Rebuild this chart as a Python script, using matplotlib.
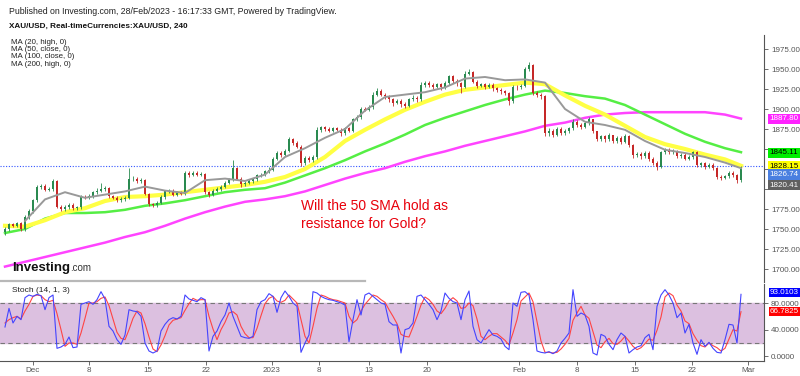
import matplotlib.pyplot as plt
from matplotlib.lines import Line2D

plt.rcParams['font.family'] = ['Liberation Sans', 'DejaVu Sans']

# ---- XAU/USD candles, open of each bar = previous close ----
first_open = 1746
closes = [1750, 1756, 1754, 1757, 1750, 1765, 1772, 1786, 1802, 1804, 1799, 1800, 1810, 1778, 1775, 1777,
          1780, 1776, 1777, 1790, 1789, 1791, 1796, 1798, 1800, 1801, 1791, 1789, 1786, 1787, 1789, 1812,
          1813, 1810, 1811, 1794, 1781, 1780, 1783, 1790, 1797, 1798, 1793, 1795, 1794, 1820, 1818, 1820,
          1818, 1819, 1796, 1793, 1798, 1800, 1803, 1808, 1812, 1826, 1813, 1806, 1808, 1810, 1812, 1817,
          1818, 1822, 1824, 1838, 1845, 1843, 1848, 1862, 1858, 1853, 1832, 1839, 1836, 1840, 1874, 1877,
          1875, 1873, 1876, 1874, 1870, 1876, 1873, 1887, 1890, 1900, 1899, 1902, 1918, 1923, 1918, 1916,
          1912, 1908, 1910, 1906, 1904, 1912, 1914, 1912, 1930, 1933, 1930, 1928, 1931, 1927, 1932, 1941,
          1935, 1932, 1928, 1944, 1946, 1934, 1929, 1931, 1928, 1930, 1926, 1924, 1922, 1920, 1910, 1928,
          1927, 1929, 1950, 1955, 1920, 1918, 1916, 1870, 1873, 1868, 1875, 1870, 1872, 1876, 1884, 1880,
          1878, 1882, 1887, 1872, 1863, 1866, 1862, 1867, 1860, 1864, 1859, 1866, 1855, 1842, 1844, 1841,
          1845, 1838, 1833, 1828, 1846, 1849, 1846, 1848, 1841, 1843, 1838, 1840, 1846, 1830, 1832, 1828,
          1830, 1826, 1815, 1814, 1816, 1820, 1818, 1811, 1827]
highs = [1753, 1758, 1758, 1759, 1759, 1767, 1775, 1788, 1805, 1806, 1806, 1803, 1813, 1811, 1780, 1780,
         1783, 1782, 1779, 1793, 1792, 1794, 1798, 1801, 1808, 1804, 1803, 1793, 1791, 1790, 1791, 1826,
         1816, 1815, 1814, 1812, 1795, 1783, 1785, 1792, 1799, 1800, 1800, 1797, 1797, 1823, 1822, 1822,
         1822, 1821, 1820, 1798, 1800, 1802, 1805, 1810, 1814, 1836, 1828, 1815, 1810, 1812, 1814, 1819,
         1820, 1824, 1827, 1840, 1848, 1847, 1850, 1865, 1864, 1860, 1855, 1841, 1841, 1843, 1877, 1879,
         1879, 1877, 1878, 1878, 1876, 1878, 1878, 1889, 1893, 1902, 1903, 1905, 1921, 1926, 1925, 1920,
         1918, 1914, 1913, 1912, 1909, 1914, 1917, 1916, 1934, 1935, 1935, 1932, 1933, 1933, 1935, 1943,
         1942, 1937, 1934, 1947, 1950, 1947, 1936, 1933, 1933, 1932, 1932, 1928, 1926, 1924, 1921, 1930,
         1930, 1931, 1953, 1959, 1956, 1922, 1920, 1917, 1876, 1875, 1878, 1877, 1875, 1878, 1887, 1886,
         1882, 1885, 1890, 1888, 1873, 1868, 1868, 1870, 1868, 1866, 1866, 1869, 1867, 1856, 1846, 1846,
         1848, 1847, 1840, 1835, 1848, 1851, 1851, 1850, 1849, 1845, 1845, 1842, 1848, 1847, 1834, 1834,
         1832, 1832, 1827, 1817, 1818, 1822, 1822, 1819, 1829]
lows = [1743, 1748, 1752, 1752, 1748, 1748, 1763, 1770, 1784, 1800, 1797, 1797, 1798, 1776, 1772, 1773,
        1775, 1774, 1774, 1775, 1787, 1787, 1789, 1794, 1796, 1798, 1789, 1787, 1784, 1784, 1785, 1787,
        1810, 1808, 1808, 1792, 1779, 1777, 1778, 1781, 1788, 1795, 1791, 1791, 1792, 1792, 1815, 1816,
        1816, 1816, 1794, 1790, 1791, 1796, 1798, 1801, 1806, 1810, 1811, 1803, 1804, 1806, 1808, 1810,
        1815, 1816, 1820, 1822, 1836, 1840, 1841, 1846, 1855, 1851, 1829, 1830, 1834, 1834, 1838, 1871,
        1873, 1871, 1871, 1872, 1866, 1868, 1871, 1871, 1885, 1888, 1897, 1897, 1900, 1916, 1916, 1913,
        1909, 1904, 1906, 1903, 1901, 1902, 1910, 1909, 1910, 1928, 1928, 1925, 1926, 1924, 1925, 1930,
        1933, 1929, 1920, 1926, 1942, 1932, 1926, 1927, 1925, 1926, 1923, 1921, 1919, 1917, 1905, 1908,
        1924, 1925, 1927, 1947, 1917, 1915, 1912, 1866, 1866, 1865, 1866, 1868, 1867, 1870, 1874, 1878,
        1875, 1876, 1880, 1870, 1860, 1860, 1859, 1860, 1857, 1858, 1856, 1857, 1852, 1839, 1840, 1838,
        1839, 1835, 1830, 1824, 1826, 1844, 1844, 1844, 1839, 1839, 1836, 1836, 1838, 1827, 1828, 1825,
        1826, 1824, 1812, 1811, 1812, 1814, 1815, 1808, 1809]

# ---- moving averages, sampled every 5 bars ----
ma_idx = [0, 5, 10, 15, 20, 25, 30, 35, 40, 45, 50, 55, 60, 65, 70, 75, 80, 85, 90,
          95, 100, 105, 110, 115, 120, 125, 130, 135, 140, 145, 150, 155, 160, 165, 170, 175, 180, 184]
ma20 = [1760, 1787, 1796, 1789, 1793, 1797, 1803, 1798, 1795, 1811, 1813, 1810, 1818, 1840, 1851,
        1864, 1875, 1898, 1915, 1918, 1921, 1927, 1938, 1940, 1936, 1937, 1933, 1900, 1884, 1880, 1874,
        1860, 1849, 1845, 1840, 1833, 1826]
ma50 = [1754, 1753, 1761, 1771, 1776, 1785, 1790, 1791, 1793, 1796, 1799, 1802, 1805, 1809, 1815, 1825,
        1840, 1860, 1874, 1887, 1899, 1909, 1918, 1924, 1927, 1930, 1933, 1931, 1917, 1904, 1893, 1879,
        1865, 1856, 1850, 1843, 1837, 1829]
ma100 = [1745, 1750, 1763, 1770, 1770, 1771, 1774, 1779, 1782, 1786, 1791, 1796, 1799, 1801, 1808, 1817,
         1826, 1836, 1847, 1857, 1868, 1880, 1889, 1897, 1905, 1912, 1918, 1923, 1920, 1916, 1913, 1905,
         1893, 1881, 1869, 1859, 1851, 1846]
ma200 = [1703, 1709, 1715, 1721, 1727, 1733, 1740, 1746, 1754, 1763, 1771, 1778, 1784, 1787, 1791, 1797,
         1805, 1813, 1820, 1826, 1834, 1841, 1847, 1854, 1860, 1866, 1872, 1879, 1883, 1889, 1893, 1895,
         1896, 1896, 1896, 1896, 1893, 1888]

# ---- stochastic (14, 1, 3): %K blue, %D red ----
stoch_k = [44, 72, 50, 60, 55, 88, 92, 90, 93, 91, 70, 88, 92, 12, 14, 18, 29, 13, 14, 78, 80, 82, 78, 85,
           97, 86, 45, 38, 25, 18, 32, 70, 68, 67, 60, 20, 8, 5, 8, 38, 48, 55, 58, 56, 60, 92, 86, 84,
           82, 88, 85, 8, 30, 38, 52, 62, 80, 60, 45, 30, 28, 27, 30, 70, 82, 85, 94, 90, 66, 88, 98, 90,
           80, 75, 6, 20, 32, 97, 95, 90, 87, 85, 84, 82, 80, 77, 22, 55, 85, 62, 92, 95, 90, 85, 80, 78,
           52, 47, 47, 5, 40, 42, 50, 90, 92, 85, 78, 70, 55, 68, 95, 87, 82, 80, 55, 85, 98, 45, 25, 20,
           30, 40, 32, 30, 26, 15, 10, 80, 75, 96, 97, 92, 55, 8, 6, 5, 7, 4, 8, 20, 27, 35, 100, 60,
           65, 62, 45, 5, 2, 33, 30, 18, 10, 25, 35, 30, 5, 10, 14, 16, 28, 33, 10, 75, 92, 100, 92, 80,
           58, 65, 35, 48, 20, 3, 25, 15, 21, 12, 6, 5, 25, 48, 47, 20, 93]
stoch_d = [50, 55, 58, 60, 56, 68, 78, 90, 92, 91, 85, 82, 84, 64, 40, 15, 20, 20, 18, 35, 57, 80, 80, 82,
           87, 89, 76, 56, 36, 27, 25, 40, 57, 68, 65, 49, 29, 11, 7, 17, 31, 47, 54, 56, 58, 69, 79, 87,
           84, 85, 85, 60, 41, 25, 40, 51, 65, 67, 62, 45, 34, 28, 28, 42, 61, 79, 87, 90, 83, 81, 84, 92,
           86, 80, 55, 30, 20, 45, 72, 92, 90, 87, 85, 84, 82, 80, 60, 50, 55, 68, 78, 85, 92, 90, 85, 81,
           70, 60, 49, 33, 30, 29, 44, 60, 77, 89, 85, 78, 68, 64, 72, 83, 88, 83, 72, 73, 80, 76, 56, 30,
           25, 30, 34, 34, 29, 24, 17, 35, 55, 83, 89, 95, 82, 52, 23, 6, 6, 5, 6, 11, 18, 27, 54, 65,
           75, 62, 57, 37, 17, 13, 22, 27, 19, 18, 23, 30, 23, 15, 10, 13, 19, 26, 24, 39, 59, 89, 95, 91,
           77, 68, 53, 49, 34, 24, 16, 14, 20, 16, 13, 8, 12, 26, 40, 38, 67]

price_ticks = [1700, 1725, 1750, 1775, 1800, 1825, 1850, 1875, 1900, 1925, 1950, 1975]
hidden_ticks = [1800, 1825, 1850]    # covered by the value boxes in the original
date_pos = [7, 21, 35.75, 50.25, 66.75, 78.5, 91, 105.5, 128.5, 143, 157.5, 171.75, 185.75]
date_labels = ['Dec', '8', '15', '22', '2023', '8', '13', '20', 'Feb', '8', '15', '22', 'Mar']

UP, DOWN = '#2a8a50', '#c62828'
AXC = '#555555'

fig = plt.figure(figsize=(8, 3.76), dpi=100)
W, H = 800, 376
ax = fig.add_axes([0, 1 - 282 / H, 764 / W, (282 - 35) / H])
ax2 = fig.add_axes([0, 1 - 361 / H, 764 / W, (361 - 284) / H])

# candles
opens = [first_open] + closes[:-1]
for i, (o, c, h, l) in enumerate(zip(opens, closes, highs, lows)):
    col = UP if c >= o else DOWN
    ax.vlines(i, l, h, color=col, lw=0.6, zorder=3)
    ax.bar(i, max(abs(c - o), 0.8), bottom=min(o, c), width=0.7, color=col, zorder=4, linewidth=0)

ax.plot(ma_idx, ma200, color='#ff44ff', lw=1.8, zorder=2)
ax.plot(ma_idx, ma100, color='#55ee44', lw=1.8, zorder=2)
ax.plot(ma_idx, ma50, color='#ffff44', lw=3.0, zorder=2)
ax.plot(ma_idx[1:], ma20, color='#999999', lw=1.4, zorder=5)
ax.axhline(1828.15, color='#3355ff', lw=0.8, ls=(0, (1, 1.5)), zorder=1)

ax.set_xlim(-1.25, 189.75)
ax.set_ylim(1675 + 8.75, 1975 + 17.5)
ax.set_xticks([])
ax.yaxis.tick_right()
ax.set_yticks(price_ticks)
ax.set_yticklabels(['' if t in hidden_ticks else f'{t:.2f}' for t in price_ticks])
ax.tick_params(axis='y', labelsize=5.8, colors=AXC, length=3, width=0.6, pad=2)
for s in ['top', 'left', 'bottom']:
    ax.spines[s].set_visible(False)
ax.spines['right'].set_color(AXC)
ax.spines['right'].set_linewidth(0.8)

# value boxes on the price axis
boxes = [(1887.80, 0, '#ff22ff', 'white'), (1845.11, 0, '#00ee00', 'black'),
         (1828.15, 0, '#ffff00', 'black'), (1826.74, -5, '#4a7fe0', 'white'),
         (1820.41, -9, '#606060', 'white')]
for val, off, bg, fg in boxes:
    ax.annotate(f'{val:.2f}', xy=(1.0, val), xycoords=('axes fraction', 'data'),
                xytext=(4, off), textcoords='offset points', va='center', ha='left',
                fontsize=5.8, color=fg, zorder=10, annotation_clip=False,
                bbox=dict(boxstyle='square,pad=0.2', fc=bg, ec='none'))

# MA legend
for k, txt in enumerate(['MA (20, high, 0)', 'MA (50, close, 0)', 'MA (100, close, 0)', 'MA (200, high, 0)']):
    fig.text(11 / W, 1 - (42 + k * 7.5) / H, txt, fontsize=5.7, color='#222222', va='center')

fig.text(9 / W, 1 - 11 / H, 'Published on Investing.com, 28/Feb/2023 - 16:17:33 GMT, Powered by TradingView.',
         fontsize=6.3, color='#222222', va='center')
fig.text(9 / W, 1 - 26 / H, 'XAU/USD, Real-timeCurrencies:XAU/USD, 240', fontsize=5.9,
         fontweight='bold', color='#111111', va='center')

fig.text(301 / W, 1 - 215 / H, 'Will the 50 SMA hold as\nresistance for Gold?', color='#e8000b',
         fontsize=10, va='center', linespacing=1.35)

logo = fig.text(12 / W, 1 - 268 / H, 'Investing', fontsize=9.5, fontweight='bold', color='#111111',
                va='center')
ax.annotate('.com', xy=(1.0, 0.05), xycoords=logo, fontsize=7, color='#333333',
            ha='left', va='bottom', annotation_clip=False)
fig.add_artist(Line2D([0, 365 / W], [1 - 281 / H] * 2, color='#b8b8b8', lw=1.6))

# stochastic pane
x = list(range(len(stoch_k)))
ax2.axhspan(20, 80, color='#dcc0e0', zorder=0)
ax2.axhline(80, color='#777777', lw=0.8, ls=(0, (4, 3)), zorder=1)
ax2.axhline(20, color='#777777', lw=0.8, ls=(0, (4, 3)), zorder=1)
ax2.plot(x, stoch_d, color='#ff4444', lw=0.8, zorder=2)
ax2.plot(x, stoch_k, color='#4444ff', lw=0.8, zorder=3)
ax2.set_xlim(-1.25, 189.75)
ax2.set_ylim(-7, 108.5)
ax2.yaxis.tick_right()
ax2.set_yticks([0, 40, 80])
ax2.set_yticklabels(['0.0000', '40.0000', '80.0000'])
ax2.tick_params(axis='y', labelsize=5.8, colors=AXC, length=3, width=0.6, pad=2)
ax2.set_xticks(date_pos)
ax2.set_xticklabels(date_labels)
ax2.tick_params(axis='x', labelsize=5.8, colors=AXC, length=3, width=0.6, pad=1.5)
for s in ['top', 'left']:
    ax2.spines[s].set_visible(False)
for s in ['right', 'bottom']:
    ax2.spines[s].set_color(AXC)
    ax2.spines[s].set_linewidth(0.8)
ax2.text(12 / 764, 1 - 6 / 77, 'Stoch (14, 1, 3)', transform=ax2.transAxes, fontsize=6,
         color='#222222', va='center')
for val, bg in [(93.0103, '#0000ff'), (66.7825, '#ff0000')]:
    ax2.annotate(f'{val:.4f}', xy=(1.0, val), xycoords=('axes fraction', 'data'),
                 xytext=(4, 1 if val > 90 else 0), textcoords='offset points', va='center', ha='left',
                 fontsize=5.8, color='white', zorder=10, annotation_clip=False,
                 bbox=dict(boxstyle='square,pad=0.12', fc=bg, ec='none'))

fig.savefig('out.png', dpi=100)
